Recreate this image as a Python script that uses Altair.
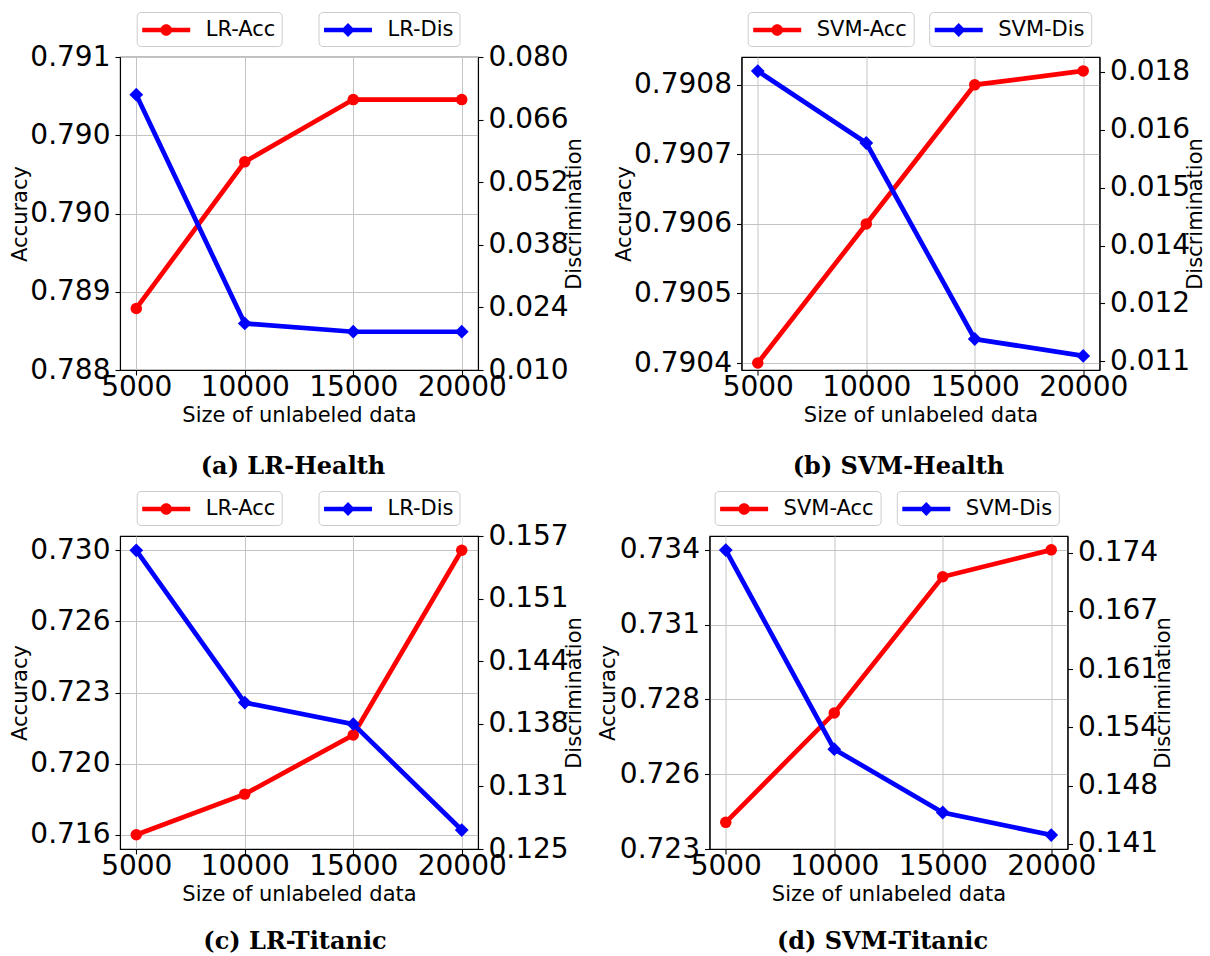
import altair as alt
import pandas as pd

sizes = [5000, 10000, 15000, 20000]

# (a) LR-Health
a_caption = "(a) LR-Health"
a_names = ["LR-Acc", "LR-Dis"]
a_acc = [0.78859, 0.789995, 0.790592, 0.790592]
a_dis = [0.07157, 0.02041, 0.01856, 0.01856]
a_left_ticks = [0.788, 0.78875, 0.7895, 0.79025, 0.791]
a_left_labels = ["0.788", "0.789", "0.790", "0.790", "0.791"]
a_right_ticks = [0.010, 0.024, 0.038, 0.052, 0.066, 0.080]
a_right_labels = ["0.010", "0.024", "0.038", "0.052", "0.066", "0.080"]

# (b) SVM-Health
b_caption = "(b) SVM-Health"
b_names = ["SVM-Acc", "SVM-Dis"]
b_acc = [0.7904, 0.7906, 0.7908, 0.79082]
b_dis = [0.01782, 0.01608, 0.01134, 0.01093]
b_left_ticks = [0.7904, 0.7905, 0.7906, 0.7907, 0.7908]
b_left_labels = ["0.7904", "0.7905", "0.7906", "0.7907", "0.7908"]
b_right_ticks = [0.0108, 0.0122, 0.0136, 0.0150, 0.0164, 0.0178]
b_right_labels = ["0.011", "0.012", "0.014", "0.015", "0.016", "0.018"]

# (c) LR-Titanic
c_caption = "(c) LR-Titanic"
c_names = ["LR-Acc", "LR-Dis"]
c_acc = [0.716, 0.718, 0.72091, 0.730]
c_dis = [0.15554, 0.13997, 0.13777, 0.12694]
c_left_ticks = [0.716, 0.7195, 0.723, 0.7265, 0.730]
c_left_labels = ["0.716", "0.720", "0.723", "0.726", "0.730"]
c_right_ticks = [0.125, 0.1314, 0.1378, 0.1442, 0.1506, 0.157]
c_right_labels = ["0.125", "0.131", "0.138", "0.144", "0.151", "0.157"]

# (d) SVM-Titanic
d_caption = "(d) SVM-Titanic"
d_names = ["SVM-Acc", "SVM-Dis"]
d_acc = [0.72398, 0.728, 0.73301, 0.734]
d_dis = [0.1743, 0.15172, 0.14454, 0.14198]
d_left_ticks = [0.723, 0.72575, 0.7285, 0.73125, 0.734]
d_left_labels = ["0.723", "0.726", "0.728", "0.731", "0.734"]
d_right_ticks = [0.141, 0.1476, 0.1542, 0.1608, 0.1674, 0.174]
d_right_labels = ["0.141", "0.148", "0.154", "0.161", "0.167", "0.174"]

W, H = 358, 313

# legend handle: a thick line with the marker in its middle (units of 12 px)
CIRCLE_SYM = ("M-1.04,-0.196 L2.96,-0.196 L2.96,0.196 L-1.04,0.196 Z "
              "M1.44,0 A0.48,0.48 0 1,1 0.48,0 A0.48,0.48 0 1,1 1.44,0 Z")
DIAMOND_SYM = ("M-1.04,-0.196 L2.96,-0.196 L2.96,0.196 L-1.04,0.196 Z "
               "M0.96,-0.575 L1.535,0 L0.96,0.575 L0.385,0 Z")


def label_expr(ticks, labels):
    expr = "''"
    for t, l in reversed(list(zip(ticks, labels))):
        expr = f"abs(datum.value - {t!r}) < 1e-7 ? '{l}' : ({expr})"
    return expr


def legend(lx, sym):
    return alt.Legend(
        title=None, orient="none", legendX=lx, legendY=-45,
        symbolType=sym, symbolSize=576, symbolStrokeWidth=0, symbolOpacity=1,
        labelFontSize=21, labelFont="DejaVu Sans", labelColor="black",
        labelOffset=39, padding=6, strokeColor="#cccccc", fillColor="white",
        cornerRadius=4, labelLimit=300,
    )


def panel(caption, names, acc, dis, lt, ll, rt, rl, left_dom, right_dom,
          lx1, lx2, acc_title_x, dis_title_x, cap_dx, cap_offset):
    df = pd.DataFrame({"size": sizes, "acc": acc, "dis": dis,
                       "acc_s": names[0], "dis_s": names[1]})
    x = alt.X("size:Q",
              scale=alt.Scale(domain=[4250, 20750], nice=False, zero=False),
              axis=alt.Axis(values=sizes, format="d", title="Size of unlabeled data",
                            labelOverlap=False, labelFlush=False, grid=True,
                            labelPadding=-1.5, titleY=45, titleBaseline="middle"))
    y_acc = alt.Y("acc:Q",
                  scale=alt.Scale(domain=left_dom, nice=False, zero=False),
                  axis=alt.Axis(values=lt, labelExpr=label_expr(lt, ll),
                                title="Accuracy", titleX=acc_title_x,
                                titleBaseline="middle", titleAngle=270,
                                grid=True, labelOverlap=False, labelFlush=False))
    y_dis = alt.Y("dis:Q",
                  scale=alt.Scale(domain=right_dom, nice=False, zero=False),
                  axis=alt.Axis(orient="right", values=rt, labelExpr=label_expr(rt, rl),
                                title="Discrimination", titleX=dis_title_x,
                                titleBaseline="middle", titleAngle=270,
                                grid=False, labelOverlap=False, labelFlush=False))
    base = alt.Chart(df)
    acc_line = base.mark_line(color="red", strokeWidth=4.7).encode(x=x, y=y_acc)
    acc_pts = base.mark_point(filled=True, shape="circle", size=132, opacity=1).encode(
        x=x, y=y_acc,
        color=alt.Color("acc_s:N", scale=alt.Scale(domain=[names[0]], range=["red"]),
                        legend=legend(lx1, CIRCLE_SYM)))
    dis_line = base.mark_line(color="blue", strokeWidth=4.7).encode(x=x, y=y_dis)
    dis_pts = base.mark_point(filled=True, shape="diamond", size=190, opacity=1).encode(
        x=x, y=y_dis,
        color=alt.Color("dis_s:N", scale=alt.Scale(domain=[names[1]], range=["blue"]),
                        legend=legend(lx2, DIAMOND_SYM)))
    return alt.layer(alt.layer(acc_line, acc_pts), alt.layer(dis_line, dis_pts)).resolve_scale(
        y="independent", color="independent"
    ).properties(
        width=W, height=H,
        title=alt.TitleParams(caption, orient="bottom", anchor="middle",
                              font="DejaVu Serif", fontSize=24, fontWeight="bold",
                              color="black", offset=cap_offset, dx=cap_dx),
    )


pa = panel(a_caption, a_names, a_acc, a_dis, a_left_ticks, a_left_labels,
           a_right_ticks, a_right_labels, [0.788, 0.791], [0.010, 0.080],
           16.7, 198.5, -99.3, 96.9, -6, 30)
pb = panel(b_caption, b_names, b_acc, b_dis, b_left_ticks, b_left_labels,
           b_right_ticks, b_right_labels, [0.79039, 0.79084], [0.01059, 0.01816],
           6.2, 187.7, -116.6, 96, -22, 30)
pc = panel(c_caption, c_names, c_acc, c_dis, c_left_ticks, c_left_labels,
           c_right_ticks, c_right_labels, [0.7153, 0.7307], [0.125, 0.157],
           16.7, 198.5, -99.3, 96.9, -4, 26)
pd_ = panel(d_caption, d_names, d_acc, d_dis, d_left_ticks, d_left_labels,
            d_right_ticks, d_right_labels, [0.723, 0.73451], [0.1404, 0.1759],
            5.1, 187.3, -100.8, 96, -6, 26)

row1 = alt.hconcat(pa, pb, spacing=26.5)
row2 = alt.hconcat(pc, pd_, spacing=10.5)

chart = alt.vconcat(row1, row2, spacing=9).properties(
    padding={"left": 9, "top": 10, "right": 0, "bottom": 0},
    background="white",
).configure_view(
    stroke="black", strokeWidth=1.1
).configure_axis(
    labelFont="DejaVu Sans", labelFontSize=28, labelColor="black", labelPadding=5,
    titleFont="DejaVu Sans", titleFontSize=21, titleFontWeight="normal", titleColor="black",
    domainColor="black", domainWidth=1.1, tickColor="black", tickSize=5, tickWidth=1.1,
    gridColor="#c4c4c4", gridWidth=1,
)

chart.save("out.html", embed_options={"renderer": "svg", "actions": False})
